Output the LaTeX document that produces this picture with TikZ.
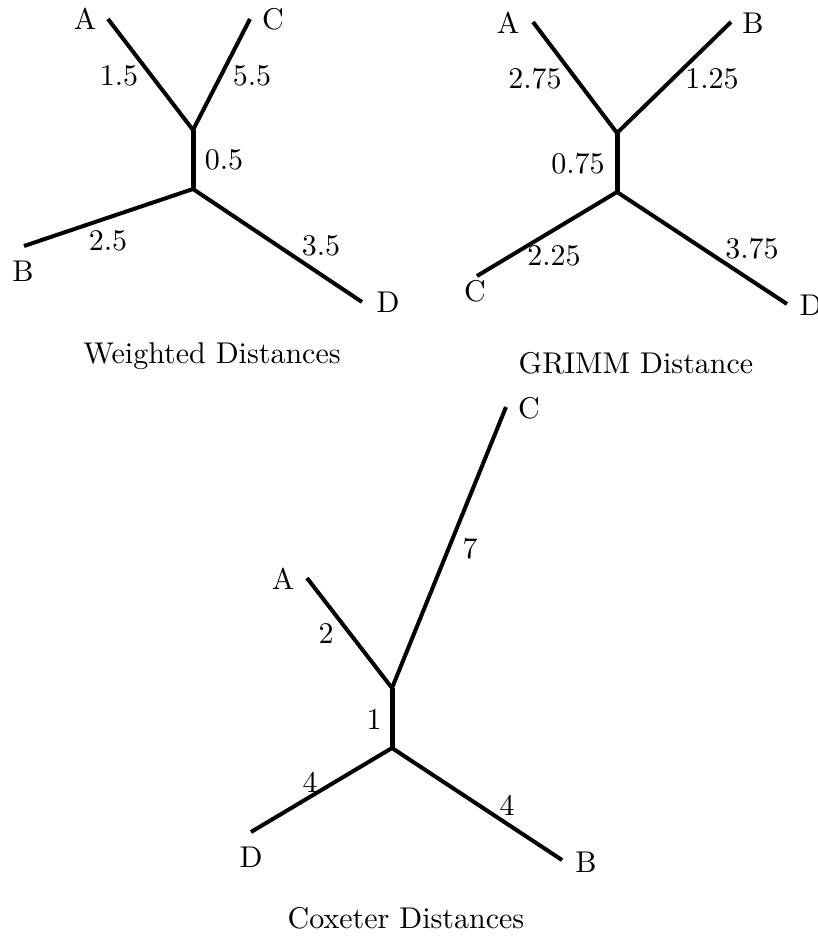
\documentclass[tikz,border=0pt]{standalone}
\tikzset{
  edge/.style={line width=4pt},
  stem/.style={line width=5pt},
  lbl/.style={inner sep=0pt, font=\fontsize{10}{12}\selectfont, scale=3},
  captext/.style={inner sep=0pt, anchor=base, font=\fontsize{10}{12}\selectfont, scale=3}
}
\begin{document}
\begin{tikzpicture}[x=1pt,y=-1pt]
\useasboundingbox (0,0) rectangle (818,938);
% ---------- Tree 1: Weighted Distances ----------
\coordinate (t1u) at (193,130);
\coordinate (t1l) at (193,189);
\coordinate (t1A) at (108,19);
\coordinate (t1C) at (250,19);
\coordinate (t1B) at (24,246);
\coordinate (t1D) at (362,302);
\draw[edge] (t1u) -- (t1A);
\draw[edge] (t1u) -- (t1C);
\draw[stem] (t1u) -- (t1l);
\draw[edge] (t1l) -- (t1B);
\draw[edge] (t1l) -- (t1D);
\node[lbl] (n1A) at (85,19) {A};
\node[lbl] (n1C) at (273,19) {C};
\node[lbl] (n1B) at (23,271) {B};
\node[lbl] (n1D) at (388,302) {D};
\node[lbl] (w1a) at (119,76) {1.5};
\node[lbl] (w1c) at (252,76) {5.5};
\node[lbl] (w1m) at (224,160) {0.5};
\node[lbl] (w1b) at (108,241) {2.5};
\node[lbl] (w1d) at (321,246) {3.5};
\node[captext] (cap1) at (212,363) {Weighted Distances};
% ---------- Tree 2: GRIMM Distance ----------
\coordinate (t2u) at (617,133);
\coordinate (t2l) at (617,192);
\coordinate (t2A) at (533,22);
\coordinate (t2B) at (731,22);
\coordinate (t2C) at (477,276);
\coordinate (t2D) at (787,304);
\draw[edge] (t2u) -- (t2A);
\draw[edge] (t2u) -- (t2B);
\draw[stem] (t2u) -- (t2l);
\draw[edge] (t2l) -- (t2C);
\draw[edge] (t2l) -- (t2D);
\node[lbl] (n2A) at (508,23) {A};
\node[lbl] (n2B) at (753,23) {B};
\node[lbl] (n2C) at (475,291) {C};
\node[lbl] (n2D) at (811,305) {D};
\node[lbl] (w2a) at (535,79) {2.75};
\node[lbl] (w2b) at (712,79) {1.25};
\node[lbl] (w2m) at (578,164) {0.75};
\node[lbl] (w2c) at (554,256) {2.25};
\node[lbl] (w2d) at (752,249) {3.75};
\node[captext] (cap2) at (636,373) {GRIMM Distance};
% ---------- Tree 3: Coxeter Distances ----------
\coordinate (t3u) at (392,688);
\coordinate (t3l) at (392,748);
\coordinate (t3A) at (307,578);
\coordinate (t3C) at (506,407);
\coordinate (t3D) at (251,832);
\coordinate (t3B) at (562,860);
\draw[edge] (t3u) -- (t3A);
\draw[edge] (t3u) -- (t3C);
\draw[stem] (t3u) -- (t3l);
\draw[edge] (t3l) -- (t3D);
\draw[edge] (t3l) -- (t3B);
\node[lbl] (n3C) at (529,408) {C};
\node[lbl] (n3A) at (283,579) {A};
\node[lbl] (n3D) at (251,857) {D};
\node[lbl] (n3B) at (586,862) {B};
\node[lbl] (w3c) at (470,549) {7};
\node[lbl] (w3a) at (326,634) {2};
\node[lbl] (w3m) at (374,719) {1};
\node[lbl] (w3d) at (310,782) {4};
\node[lbl] (w3b) at (507,805) {4};
\node[captext] (cap3) at (406,928) {Coxeter Distances};
\end{tikzpicture}
\end{document}
